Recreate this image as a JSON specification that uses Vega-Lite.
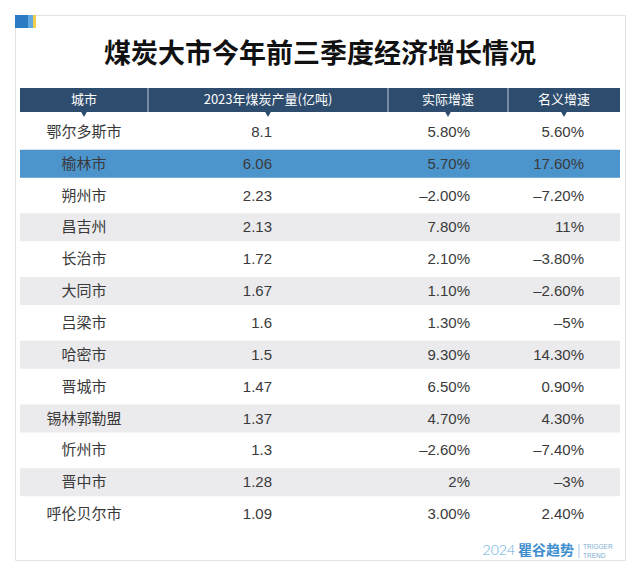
{
  "$schema": "https://vega.github.io/schema/vega-lite/v6.json",
  "width": 610,
  "height": 545,
  "autosize": {"type": "none"},
  "padding": {"left": 15, "top": 15, "right": 15, "bottom": 12},
  "background": "#ffffff",
  "config": {
    "view": {"stroke": "#e2e2e2", "fill": "#ffffff", "strokeWidth": 1},
    "text": {"font": "Noto Sans CJK SC"}
  },
  "title": {
    "text": "煤炭大市今年前三季度经济增长情况",
    "font": "Noto Sans CJK SC",
    "fontSize": 27,
    "fontWeight": "bold",
    "color": "#111111",
    "anchor": "middle",
    "offset": 0,
    "baseline": "middle",
    "dy": 67
  },
  "datasets": {
    "cities": [
      {"row": 1, "city": "鄂尔多斯市", "output": 8.1, "real": "5.80%", "nominal": "5.60%"},
      {"row": 2, "city": "榆林市", "output": 6.06, "real": "5.70%", "nominal": "17.60%"},
      {"row": 3, "city": "朔州市", "output": 2.23, "real": "–2.00%", "nominal": "–7.20%"},
      {"row": 4, "city": "昌吉州", "output": 2.13, "real": "7.80%", "nominal": "11%"},
      {"row": 5, "city": "长治市", "output": 1.72, "real": "2.10%", "nominal": "–3.80%"},
      {"row": 6, "city": "大同市", "output": 1.67, "real": "1.10%", "nominal": "–2.60%"},
      {"row": 7, "city": "吕梁市", "output": 1.6, "real": "1.30%", "nominal": "–5%"},
      {"row": 8, "city": "哈密市", "output": 1.5, "real": "9.30%", "nominal": "14.30%"},
      {"row": 9, "city": "晋城市", "output": 1.47, "real": "6.50%", "nominal": "0.90%"},
      {"row": 10, "city": "锡林郭勒盟", "output": 1.37, "real": "4.70%", "nominal": "4.30%"},
      {"row": 11, "city": "忻州市", "output": 1.3, "real": "–2.60%", "nominal": "–7.40%"},
      {"row": 12, "city": "晋中市", "output": 1.28, "real": "2%", "nominal": "–3%"},
      {"row": 13, "city": "呼伦贝尔市", "output": 1.09, "real": "3.00%", "nominal": "2.40%"}
    ],
    "header": [
      {"col": 0, "label": "城市"},
      {"col": 1, "label": "2023年煤炭产量(亿吨)"},
      {"col": 2, "label": "实际增速"},
      {"col": 3, "label": "名义增速"}
    ],
    "one": [{}],
    "brand": [{"year": "2024", "name": "瞿谷趋势", "en1": "TRIGGER", "en2": "TREND"}]
  },
  "layer": [
    {
      "data": {"name": "cities"},
      "mark": {"type": "bar", "height": {"band": 0.88}},
      "encoding": {
        "y": {"field": "city", "type": "nominal", "axis": null,
          "scale": {"type": "band", "domain": ["表头", "鄂尔多斯市", "榆林市", "朔州市", "昌吉州", "长治市", "大同市", "吕梁市", "哈密市", "晋城市", "锡林郭勒盟", "忻州市", "晋中市", "呼伦贝尔市"], "range": [69, 515], "paddingInner": 0, "paddingOuter": 0}},
        "x": {"value": 5},
        "x2": {"value": 605},
        "color": {
          "condition": [
            {"test": "datum.city === '榆林市'", "value": "#4b94cc"},
            {"test": "datum.row % 2 === 0", "value": "#ebebed"}
          ],
          "value": "#ffffff"
        }
      }
    },
    {
      "data": {"name": "one"},
      "mark": {"type": "bar", "height": {"band": 0.754}, "color": "#2e4c6e"},
      "encoding": {
        "y": {"datum": "表头", "type": "nominal", "axis": null,
          "scale": {"type": "band", "domain": ["表头", "鄂尔多斯市", "榆林市", "朔州市", "昌吉州", "长治市", "大同市", "吕梁市", "哈密市", "晋城市", "锡林郭勒盟", "忻州市", "晋中市", "呼伦贝尔市"], "range": [69, 515], "paddingInner": 0, "paddingOuter": 0}},
        "x": {"value": 5},
        "x2": {"value": 605}
      }
    },
    {
      "data": {"name": "one"},
      "mark": {"type": "rule", "color": "#8da2ba", "strokeWidth": 1.5, "yOffset": -12, "y2Offset": 12},
      "encoding": {
        "y": {"datum": "表头", "type": "nominal", "axis": null},
        "y2": {"datum": "表头"},
        "x": {"value": 133}
      }
    },
    {
      "data": {"name": "one"},
      "mark": {"type": "rule", "color": "#8da2ba", "strokeWidth": 1.5, "yOffset": -12, "y2Offset": 12},
      "encoding": {
        "y": {"datum": "表头", "type": "nominal", "axis": null},
        "y2": {"datum": "表头"},
        "x": {"value": 373}
      }
    },
    {
      "data": {"name": "one"},
      "mark": {"type": "rule", "color": "#8da2ba", "strokeWidth": 1.5, "yOffset": -12, "y2Offset": 12},
      "encoding": {
        "y": {"datum": "表头", "type": "nominal", "axis": null},
        "y2": {"datum": "表头"},
        "x": {"value": 493}
      }
    },
    {
      "data": {"name": "header"},
      "mark": {"type": "point", "shape": "triangle-down", "filled": true, "size": 50, "opacity": 1, "fill": "#2e4c6e", "stroke": null, "yOffset": 14},
      "encoding": {
        "y": {"datum": "表头", "type": "nominal", "axis": null},
        "x": {"field": "col", "type": "quantitative", "axis": null,
          "scale": {"domain": [-0.5, 0.5, 1.5, 2.5, 3.5], "range": [5, 133, 373, 493, 605], "zero": false, "nice": false}}
      }
    },
    {
      "data": {"name": "header"},
      "mark": {"type": "text", "color": "#ffffff", "fontSize": 13, "align": "center", "baseline": "middle", "font": "Noto Sans CJK SC"},
      "encoding": {
        "y": {"datum": "表头", "type": "nominal", "axis": null},
        "x": {"field": "col", "type": "quantitative", "axis": null},
        "text": {"field": "label"}
      }
    },
    {
      "data": {"name": "cities"},
      "mark": {"type": "text", "color": "#3a3a3a", "fontSize": 15, "align": "center", "baseline": "middle", "font": "Noto Sans CJK SC"},
      "encoding": {
        "y": {"field": "city", "type": "nominal", "axis": null},
        "x": {"value": 69},
        "text": {"field": "city"}
      }
    },
    {
      "data": {"name": "cities"},
      "mark": {"type": "text", "color": "#3a3a3a", "fontSize": 15, "align": "right", "baseline": "middle", "font": "Liberation Sans"},
      "encoding": {
        "y": {"field": "city", "type": "nominal", "axis": null},
        "x": {"value": 257},
        "text": {"field": "output"}
      }
    },
    {
      "data": {"name": "cities"},
      "mark": {"type": "text", "color": "#3a3a3a", "fontSize": 15, "align": "right", "baseline": "middle", "font": "Liberation Sans"},
      "encoding": {
        "y": {"field": "city", "type": "nominal", "axis": null},
        "x": {"value": 455},
        "text": {"field": "real"}
      }
    },
    {
      "data": {"name": "cities"},
      "mark": {"type": "text", "color": "#3a3a3a", "fontSize": 15, "align": "right", "baseline": "middle", "font": "Liberation Sans"},
      "encoding": {
        "y": {"field": "city", "type": "nominal", "axis": null},
        "x": {"value": 569},
        "text": {"field": "nominal"}
      }
    },
    {
      "data": {"name": "brand"},
      "mark": {"type": "text", "color": "#5eaadb", "fontSize": 14, "font": "Lato", "fontWeight": 300, "align": "right", "baseline": "middle"},
      "encoding": {"x": {"value": 500}, "y": {"value": 536}, "text": {"field": "year"}}
    },
    {
      "data": {"name": "brand"},
      "mark": {"type": "text", "color": "#3f8fcf", "fontSize": 14, "font": "Noto Sans CJK SC", "fontWeight": "bold", "align": "left", "baseline": "middle"},
      "encoding": {"x": {"value": 503}, "y": {"value": 536}, "text": {"field": "name"}}
    },
    {
      "data": {"name": "one"},
      "mark": {"type": "rule", "color": "#a9c9e3", "strokeWidth": 1},
      "encoding": {"x": {"value": 564}, "y": {"value": 529}, "y2": {"value": 543}}
    },
    {
      "data": {"name": "brand"},
      "mark": {"type": "text", "color": "#7eaed3", "fontSize": 6.5, "font": "Liberation Sans", "align": "left", "baseline": "middle"},
      "encoding": {"x": {"value": 568}, "y": {"value": 532}, "text": {"field": "en1"}}
    },
    {
      "data": {"name": "brand"},
      "mark": {"type": "text", "color": "#7eaed3", "fontSize": 6.5, "font": "Liberation Sans", "align": "left", "baseline": "middle"},
      "encoding": {"x": {"value": 568}, "y": {"value": 541}, "text": {"field": "en2"}}
    },
    {
      "data": {"name": "one"},
      "mark": {"type": "rect", "color": "#2b7bc4"},
      "encoding": {"x": {"value": 0}, "x2": {"value": 13}, "y": {"value": 0}, "y2": {"value": 13}}
    },
    {
      "data": {"name": "one"},
      "mark": {"type": "rect", "color": "#62a9df"},
      "encoding": {"x": {"value": 13}, "x2": {"value": 18}, "y": {"value": 0}, "y2": {"value": 13}}
    },
    {
      "data": {"name": "one"},
      "mark": {"type": "rect", "color": "#f2cf4e"},
      "encoding": {"x": {"value": 18}, "x2": {"value": 21}, "y": {"value": 0}, "y2": {"value": 13}}
    }
  ]
}
